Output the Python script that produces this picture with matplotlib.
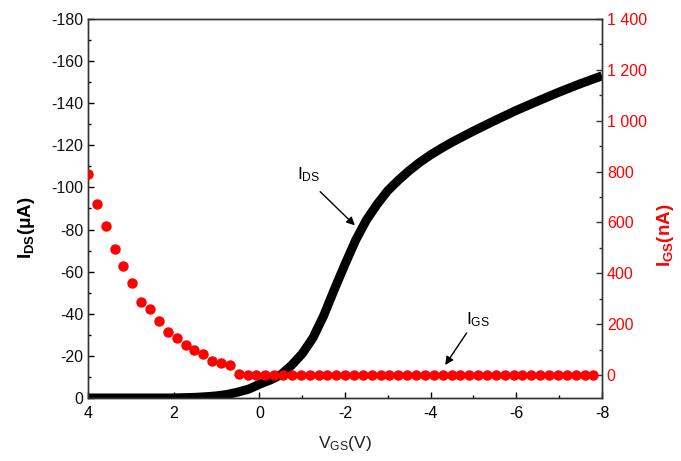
import numpy as np
import matplotlib
matplotlib.use("Agg")
import matplotlib.pyplot as plt
from matplotlib.ticker import MultipleLocator, FuncFormatter

plt.rcParams['font.family'] = ['Liberation Sans', 'DejaVu Sans']
plt.rcParams['axes.unicode_minus'] = False
plt.rcParams['mathtext.fontset'] = 'custom'
plt.rcParams['mathtext.rm'] = 'Liberation Sans'
plt.rcParams['mathtext.it'] = 'Liberation Sans'
plt.rcParams['mathtext.bf'] = 'Liberation Sans:bold'

# ---- data ----
vgs_ds = [4, 3, 2, 1.5, 1.25, 1, 0.75, 0.5, 0.25, 0, -0.25, -0.5, -0.75, -1, -1.25,
          -1.5, -1.75, -2, -2.25, -2.5, -2.75, -3, -3.25, -3.5, -3.75, -4, -4.25,
          -4.5, -5, -5.5, -6, -6.5, -7, -7.5, -8]
ids_uA = [0, 0, 0, -0.3, -0.6, -1.0, -1.7, -2.8, -4.2, -6.5, -8.5, -11, -15.5, -21,
          -28.5, -39, -51.5, -63.5, -75, -84.5, -92, -98.5, -103.5, -108, -112, -115.5,
          -118.6, -121.5, -126.8, -131.8, -136.6, -141, -145.3, -149.3, -153]

vgs_gs = np.linspace(4.0, -7.8, 58)
igs_nA = [791, 673, 585, 496, 429, 362, 289, 258, 214, 171, 146, 120, 99, 84, 54,
          49, 39, 5, 2] + [0] * 39

left_ticks = [0, -20, -40, -60, -80, -100, -120, -140, -160, -180]
right_ticks = [0, 200, 400, 600, 800, 1000, 1200, 1400]
x_ticks = [4, 2, 0, -2, -4, -6, -8]

fig = plt.figure(figsize=(6.81, 4.61), dpi=100)
ax = fig.add_axes([88/681, 1 - 398/461, (602-88)/681, (398-19)/461])
ax2 = ax.twinx()

ax.plot(vgs_ds, ids_uA, color='black', lw=6.5, solid_capstyle='butt',
        solid_joinstyle='round', zorder=2)
ax2.plot(vgs_gs, igs_nA, 'o', color='#ff0000', ms=6.5, mec='#ff0000', zorder=3)

ax.set_xlim(4, -8)
ax.set_ylim(0, -180)
ax2.set_ylim(-90, 1400)

ax.set_xticks(x_ticks)
ax.xaxis.set_minor_locator(MultipleLocator(1))
ax.set_yticks(left_ticks)
ax.yaxis.set_minor_locator(MultipleLocator(10))
ax2.set_yticks(right_ticks)
ax2.yaxis.set_minor_locator(MultipleLocator(100))

def fmt_space(v, pos):
    return f"{int(round(v)):,}".replace(",", " ")
ax2.yaxis.set_major_formatter(FuncFormatter(fmt_space))

for a in (ax, ax2):
    a.tick_params(which='major', direction='in', length=4.5, width=1, labelsize=11.5)
    a.tick_params(which='minor', direction='in', length=2.5, width=1)
    for sp in a.spines.values():
        sp.set_color('#333333')
        sp.set_linewidth(1)
ax.tick_params(axis='x', which='both', top=False)
ax2.tick_params(axis='y', which='both', colors='#333333', labelcolor='#ff0000')
ax.tick_params(axis='y', labelcolor='#111111')
ax.tick_params(axis='x', pad=6)

ax.set_xlabel(r'$\mathregular{V_{GS}}$(V)', fontsize=12.5, labelpad=9, color='#222222')
ax.set_ylabel(r'$\mathbf{I_{DS}}$(μA)', fontsize=13.5, fontweight='bold')
ax.yaxis.set_label_coords(-0.1, 0.45)
ax2.set_ylabel(r'$\mathbf{I_{GS}}$(nA)', fontsize=13.5, fontweight='bold', color='#ff0000')
ax2.yaxis.set_label_coords(1.103, 0.43)

ax.annotate('', xy=(-2.23, -82), xytext=(-1.42, -98),
            arrowprops=dict(arrowstyle='-|>', color='black', lw=1, mutation_scale=12, shrinkA=0, shrinkB=0))
ax.text(-1.15, -106, r'$\mathregular{I_{DS}}$', fontsize=12.5, ha='center', va='center')
ax.annotate('', xy=(-4.34, -15.7), xytext=(-4.84, -30.9),
            arrowprops=dict(arrowstyle='-|>', color='black', lw=1, mutation_scale=12, shrinkA=0, shrinkB=0))
ax.text(-5.1, -37, r'$\mathregular{I_{GS}}$', fontsize=12.5, ha='center', va='center')

fig.savefig('out.png', dpi=100)
